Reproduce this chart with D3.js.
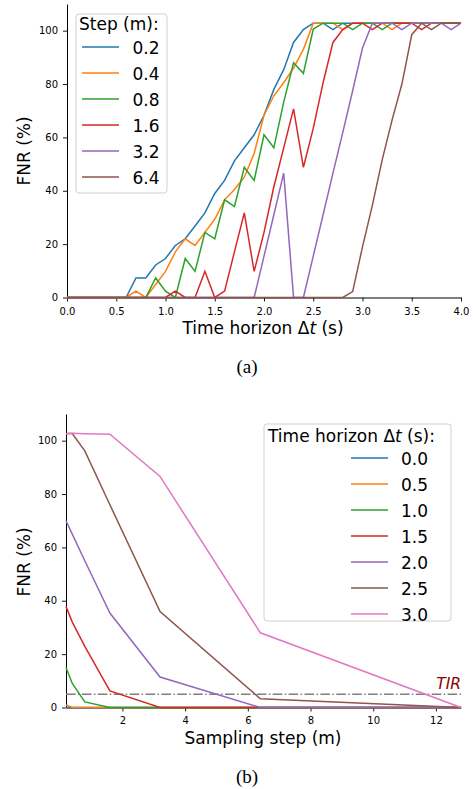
<!DOCTYPE html>
<html>
<head>
<meta charset="utf-8">
<script src="https://cdn.jsdelivr.net/npm/d3@7"></script>
<style>
  body { margin: 0; background: #fff; }
  text { font-family: "DejaVu Sans", sans-serif; }
</style>
</head>
<body>
<div id="chart"></div>
<script>
// ---- Data: panel (a), FNR vs time horizon, one series per sampling step
const timeHorizon = [0.0, 0.1, 0.2, 0.3, 0.4, 0.5, 0.6, 0.7, 0.8, 0.9, 1.0, 1.1, 1.2, 1.3, 1.4, 1.5, 1.6, 1.7, 1.8, 1.9,
    2.0, 2.1, 2.2, 2.3, 2.4, 2.5, 2.6, 2.7, 2.8, 2.9, 3.0, 3.1, 3.2, 3.3, 3.4, 3.5, 3.6, 3.7, 3.8, 3.9, 4.0]
const stepLabels = ['0.2', '0.4', '0.8', '1.6', '3.2', '6.4']
const fnrStep02 = [0, 0, 0, 0, 0, 0, 0, 7.3, 7.3, 12.2, 14.6, 19.5, 22.0, 26.8, 31.7, 39.0, 43.9, 51.2, 56.1, 61.0,
    68.3, 78.0, 85.4, 95.6, 100.4, 102.8, 102.8, 100.4, 102.8, 102.8, 102.8, 102.8, 102.8, 102.8, 102.8, 102.8, 102.8, 102.8, 102.8, 102.8, 102.8]
const fnrStep04 = [0, 0, 0, 0, 0, 0, 0, 2.4, 0, 4.9, 9.8, 17.1, 22.0, 19.5, 24.4, 29.3, 36.6, 40.5, 45.1, 54.0,
    68.3, 75.6, 80.5, 86.0, 93.0, 102.8, 102.8, 102.8, 100.4, 102.8, 102.8, 102.8, 102.8, 100.4, 102.8, 102.8, 102.8, 102.8, 102.8, 102.8, 102.8]
const fnrStep08 = [0, 0, 0, 0, 0, 0, 0, 0, 0, 7.3, 2.4, 0, 14.6, 9.8, 24.4, 22.0, 36.6, 34.1, 48.8, 43.9,
    61.0, 56.1, 73.2, 88.0, 84.0, 100.6, 102.8, 102.8, 102.8, 100.4, 102.8, 102.8, 100.4, 102.8, 102.8, 102.8, 102.8, 102.8, 102.8, 102.8, 102.8]
const fnrStep16 = [0, 0, 0, 0, 0, 0, 0, 0, 0, 0, 0, 2.4, 0, 0, 9.8, 0, 2.4, 17.1, 31.7, 9.8,
    24.4, 41.5, 56.1, 70.7, 48.8, 63.4, 80.5, 95.6, 100.4, 102.8, 102.8, 100.4, 102.8, 102.8, 102.8, 102.8, 100.4, 102.8, 102.8, 102.8, 102.8]
const fnrStep32 = [0, 0, 0, 0, 0, 0, 0, 0, 0, 0, 0, 0, 0, 0, 0, 0, 0, 0, 0, 0,
    15.5, 31.0, 46.6, 0, 0, 15.5, 31.0, 46.6, 61.9, 77.5, 93.5, 102.8, 102.8, 102.8, 100.4, 102.8, 102.8, 102.8, 102.8, 100.4, 102.8]
const fnrStep64 = [0, 0, 0, 0, 0, 0, 0, 0, 0, 0, 0, 0, 0, 0, 0, 0, 0, 0, 0, 0,
    0, 0, 0, 0, 0, 0, 0, 0, 0, 2.2, 19.0, 34.5, 51.6, 66.5, 80.0, 98.5, 102.8, 100.4, 102.8, 102.8, 102.8]
const xTicksA = [0, 0.5, 1.0, 1.5, 2.0, 2.5, 3.0, 3.5, 4.0]

// ---- Data: panel (b), FNR vs sampling step, one series per time horizon
const samplingStep = [0.2, 0.4, 0.8, 1.6, 3.2, 6.4, 12.8]
const horizonLabels = ['0.0', '0.5', '1.0', '1.5', '2.0', '2.5', '3.0']
const fnrH00 = [0, 0, 0, 0, 0, 0, 0]
const fnrH05 = [1.0, 0, 0, 0, 0, 0, 0]
const fnrH10 = [15.0, 9.0, 2.1, 0, 0, 0, 0]
const fnrH15 = [37.9, 32.0, 22.9, 6.2, 0, 0, 0]
const fnrH20 = [70.0, 65.0, 55.0, 35.4, 11.4, 0, 0]
const fnrH25 = [102.7, 102.7, 96.2, 76.0, 36.0, 3.3, 0]
const fnrH30 = [102.6, 102.8, 102.6, 102.4, 86.6, 28.0, 0]
const tirLevel = 5
const xTicksB = [2, 4, 6, 8, 10, 12]

const yTicks = [0, 20, 40, 60, 80, 100]
const colors = ['#1f77b4', '#ff7f0e', '#2ca02c', '#d62728', '#9467bd', '#8c564b', '#e377c2']

// Svg
const svg = d3.select('#chart')
    .append('svg')
    .attr('width', 473)
    .attr('height', 789)
    .style('background', '#fff')

function drawPanel(p) {
    let g = svg.append('g')
    let x = d3.scaleLinear().domain(p.xDomain).range(p.xRange)
    let y = d3.scaleLinear().domain([0, 110]).range(p.yRange)

    // X axis
    let xAxis = g.append('g')
        .attr('transform', 'translate(0,' + y(0) + ')')
        .call(d3.axisBottom(x).tickValues(p.xTicks).tickFormat(p.xFormat)
            .tickSize(4).tickPadding(p.xPad).tickSizeOuter(0))
    // Y axis
    let yAxis = g.append('g')
        .attr('transform', 'translate(' + x(p.xDomain[0]) + ',0)')
        .call(d3.axisLeft(y).tickValues(yTicks).tickSize(4).tickPadding(5).tickSizeOuter(0))

    ;[xAxis, yAxis].forEach(a => {
        a.selectAll('text').style('font-family', '"DejaVu Sans", sans-serif').style('font-size', '10px').attr('fill', '#000')
        a.selectAll('line').attr('stroke', '#000').attr('stroke-width', 0.9)
        a.select('.domain').attr('stroke', '#000').attr('stroke-width', 1)
    })

    // reference line
    if (p.tir !== undefined) {
        g.append('line')
            .attr('x1', p.xRange[0]).attr('x2', p.xRange[1])
            .attr('y1', y(p.tir)).attr('y2', y(p.tir))
            .attr('stroke', '#7f7f7f').attr('stroke-width', 1.5)
            .attr('stroke-dasharray', '9.6,2.4,1.5,2.4')
        g.append('text')
            .attr('x', p.xRange[1]).attr('y', y(p.tir) - 5.5)
            .attr('text-anchor', 'end')
            .style('font-size', '15.5px').style('font-style', 'italic')
            .attr('fill', '#8b0000')
            .text('TIR')
    }

    // Lines
    let line = d3.line().x((d, i) => x(p.xs[i])).y(d => y(d))
    g.selectAll('.series')
        .data(p.series)
        .enter()
        .append('path')
        .attr('class', 'series')
        .attr('d', d => line(d))
        .attr('fill', 'none')
        .attr('stroke', (d, i) => colors[i])
        .attr('stroke-width', 1.5)
        .attr('stroke-linejoin', 'miter')

    // axis labels
    g.append('text')
        .attr('x', 263).attr('y', p.xLabelY)
        .attr('text-anchor', 'middle')
        .style('font-size', '17px')
        .html(p.xLabel)
    g.append('text')
        .attr('transform', 'translate(30,' + p.yLabelY + ') rotate(-90)')
        .attr('text-anchor', 'middle')
        .style('font-size', '17px')
        .text('FNR (%)')

    // Legend
    let lg = p.legend
    g.append('rect')
        .attr('x', lg.x).attr('y', lg.y).attr('width', lg.w).attr('height', lg.h)
        .attr('rx', 3)
        .attr('fill', '#fff').attr('fill-opacity', 0.8)
        .attr('stroke', '#d0d0d0')
    g.append('text')
        .attr('x', lg.titleX).attr('y', lg.titleY)
        .style('font-size', '17px')
        .html(lg.title)
    lg.labels.forEach((lab, i) => {
        let cy = lg.firstY + i * 26
        g.append('line')
            .attr('x1', lg.lineX[0]).attr('x2', lg.lineX[1])
            .attr('y1', cy).attr('y2', cy)
            .attr('stroke', colors[i]).attr('stroke-width', 1.5)
        g.append('text')
            .attr('x', lg.labelX).attr('y', cy + 6.5)
            .style('font-size', '17px')
            .text(lab)
    })

    // caption
    svg.append('text')
        .attr('x', 247).attr('y', p.captionY)
        .attr('text-anchor', 'middle')
        .style('font-family', '"Liberation Serif", "Times New Roman", serif')
        .style('font-size', '19px')
        .text(p.caption)
}

drawPanel({
    xDomain: [0, 4], xRange: [67, 461], yRange: [297.5, 4],
    xTicks: xTicksA, xFormat: d3.format('.1f'), xPad: 6,
    xs: timeHorizon,
    series: [fnrStep02, fnrStep04, fnrStep08, fnrStep16, fnrStep32, fnrStep64],
    xLabel: 'Time horizon Δ<tspan font-style="italic">t</tspan> (s)', xLabelY: 334,
    yLabelY: 151,
    legend: {x: 76, y: 14, w: 91, h: 179, title: 'Step (m):', titleX: 79, titleY: 29.5,
        labels: stepLabels, firstY: 47, lineX: [82, 119], labelX: 132.5},
    caption: '(a)', captionY: 373
})

drawPanel({
    xDomain: [0.2, 12.8], xRange: [66, 461], yRange: [707.5, 414],
    xTicks: xTicksB, xFormat: d3.format('d'), xPad: 5,
    xs: samplingStep,
    series: [fnrH00, fnrH05, fnrH10, fnrH15, fnrH20, fnrH25, fnrH30],
    tir: tirLevel,
    xLabel: 'Sampling step (m)', xLabelY: 744,
    yLabelY: 562,
    legend: {x: 264, y: 424, w: 187, h: 197, title: 'Time horizon Δ<tspan font-style="italic">t</tspan> (s):', titleX: 268, titleY: 441.5,
        labels: horizonLabels, firstY: 458, lineX: [351, 388], labelX: 401},
    caption: '(b)', captionY: 783
})
</script>
</body>
</html>
